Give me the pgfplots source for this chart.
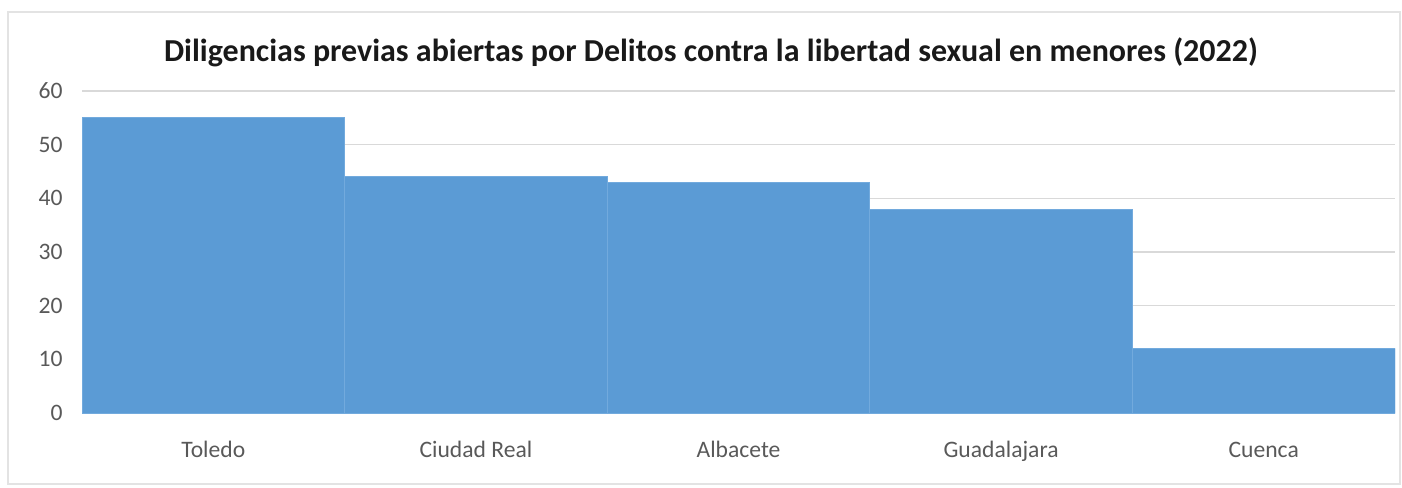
\documentclass[border=0pt]{standalone}
\usepackage{fontspec}
\setmainfont{Carlito}
\usepackage{pgfplots}
\pgfplotsset{compat=1.18}
\definecolor{barblue}{HTML}{5B9BD5}
\definecolor{barsep}{HTML}{72AADD}
\definecolor{gridgray}{HTML}{D9D9D9}
\definecolor{labgray}{HTML}{595959}
\definecolor{framegray}{HTML}{E3E3E3}
\begin{document}
\begin{tikzpicture}
\path[use as bounding box] (0,0) rectangle (701pt,243.5pt);
\draw[framegray, line width=0.6pt] (4pt,1.5pt) rectangle (700pt,237.5pt);
\node[font=\fontsize{16}{19}\selectfont\bfseries, text=black!90, anchor=base] at (355.5pt,212.5pt) {Diligencias previas abiertas por Delitos contra la libertad sexual en menores (2022)};
\begin{axis}[
  at={(41pt,37pt)}, anchor=south west,
  scale only axis, width=656.5pt, height=161pt,
  ybar, bar width=1, bar shift=0pt,
  xmin=-0.5, xmax=4.5, ymin=0, ymax=60,
  ytick={0,10,20,30,40,50,60},
  xtick={0,1,2,3,4},
  xticklabels={Toledo,Ciudad Real,Albacete,Guadalajara,Cuenca},
  ymajorgrids, grid style={gridgray, line width=0.75pt},
  axis line style={draw=none}, major tick length=0pt,
  tick label style={font=\fontsize{11.8}{14}\selectfont, text=labgray},
  /pgf/number format/assume math mode=true,
  yticklabel style={anchor=east, inner sep=0pt, xshift=-9.5pt},
  xticklabel style={anchor=base, inner sep=0pt, yshift=-22pt},
  axis on top=false,
]
\addplot[fill=barblue, draw=barsep, line width=0.5pt] coordinates {(0,55) (1,44) (2,43) (3,38) (4,12)};
\end{axis}
\end{tikzpicture}
\end{document}
